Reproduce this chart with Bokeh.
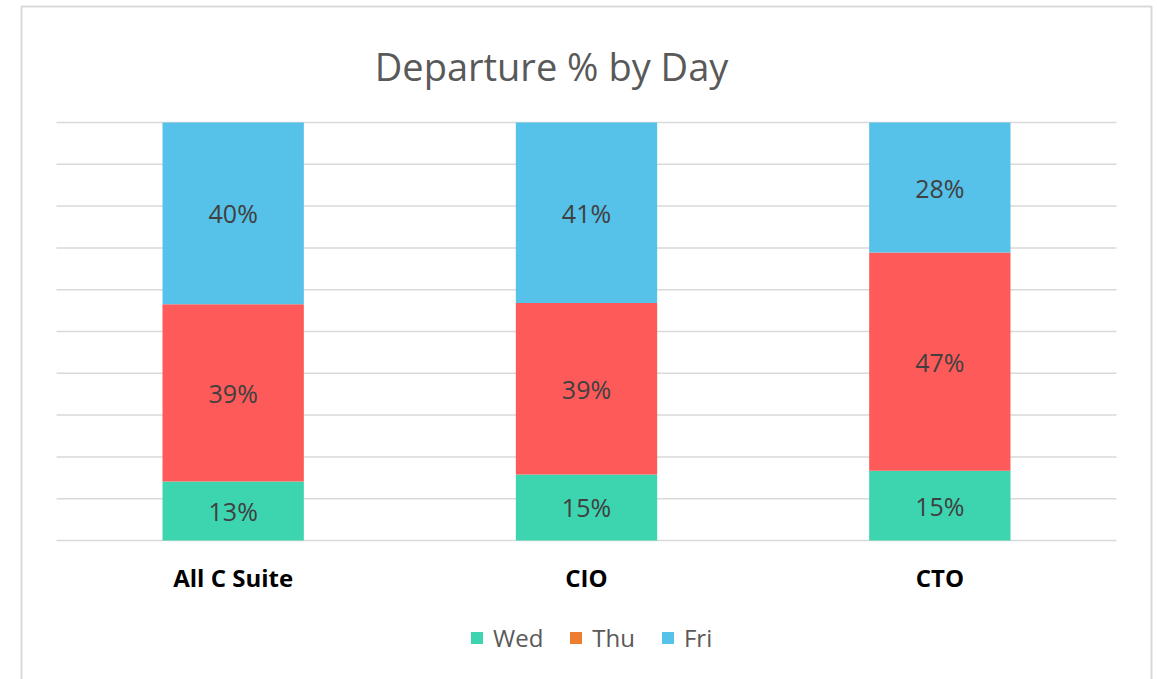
from bokeh.plotting import figure
from bokeh.models import ColumnDataSource, Range1d, Legend, LegendItem, Label
from bokeh.core.properties import value
from bokeh.embed import file_html
from bokeh.resources import INLINE

# ---- data ----
categories = ["All C Suite", "CIO", "CTO"]
days = ["Wed", "Thu", "Fri"]
wed = [13, 15, 15]
thu = [39, 39, 47]
fri = [40, 41, 28]
bar_colors = ["#3DD5B0", "#FF5A5A", "#56C1E9"]
legend_colors = ["#3DD5B0", "#ED7D31", "#56C1E9"]
title_text = "Departure % by Day"
grid_values = [i / 10 for i in range(11)]

xs = list(range(len(categories)))
series = [wed, thu, fri]
totals = [sum(v) for v in zip(*series)]
data = {"x": xs}
for d, vals in zip(days, series):
    data[d] = [v / t for v, t in zip(vals, totals)]
src = ColumnDataSource(data)

p = figure(width=1157, height=679,
           x_range=Range1d(-0.65849, 2.61604), y_range=Range1d(-0.33254, 1.29187),
           output_backend="svg", toolbar_location=None,
           x_axis_location=None, y_axis_location=None,
           min_border_left=0, min_border_right=0, min_border_top=0, min_border_bottom=0)
p.xgrid.visible = False
p.ygrid.visible = False
p.outline_line_color = None
p.background_fill_color = "white"
p.border_fill_color = "white"

n = len(categories)

# chart-area border (left, top, right)
p.line(x=[-0.59906, -0.59906, 2.59906, 2.59906], y=[-0.4, 1.27751, 1.27751, -0.4],
       line_color="#d9d9d9", line_width=2)

# gridlines
p.segment(x0=[-0.5] * len(grid_values), x1=[n - 0.5] * len(grid_values),
          y0=grid_values, y1=grid_values, line_color="#d9d9d9", line_width=1.5)

# bars
p.vbar_stack(days, x="x", width=0.4, color=bar_colors, source=src, line_color=None)

# data labels
lx, ly, lt = [], [], []
for i in range(n):
    base = 0.0
    for d, vals in zip(days, series):
        h = data[d][i]
        lx.append(xs[i])
        ly.append(base + h / 2)
        lt.append(f"{vals[i]}%")
        base += h
p.text(x=lx, y=ly, text=lt, text_align="center", text_baseline="middle",
       text_font=value("Open Sans"), text_font_size=value("25px"), text_color="#404040")

# category labels
p.text(x=xs, y=[-0.0885] * n, text=categories, text_align="center", text_baseline="middle",
       text_font=value("Open Sans"), text_font_style="bold", text_font_size=value("24px"),
       text_color="black")

# title
p.add_layout(Label(x=551, y=614, x_units="screen", y_units="screen", text=title_text,
                   text_align="center", text_baseline="middle",
                   text_font="Open Sans", text_font_size="38px", text_color="#595959"))

# legend (Thu shown in orange as in the reference)
nan = float("nan")
items = []
for d, c in zip(days, legend_colors):
    r = p.vbar(x=[nan], top=[nan], width=0.4, color=c, line_color=None)
    items.append(LegendItem(label=d, renderers=[r]))
legend = Legend(items=items, orientation="horizontal", location=(469, 25),
                glyph_width=15, glyph_height=15, label_standoff=9, spacing=25,
                padding=0, margin=0, border_line_color=None, background_fill_alpha=0,
                label_text_font="Open Sans", label_text_font_size="24px",
                label_text_color="#595959")
p.add_layout(legend)

open("out.html", "w").write(file_html(p, INLINE))
